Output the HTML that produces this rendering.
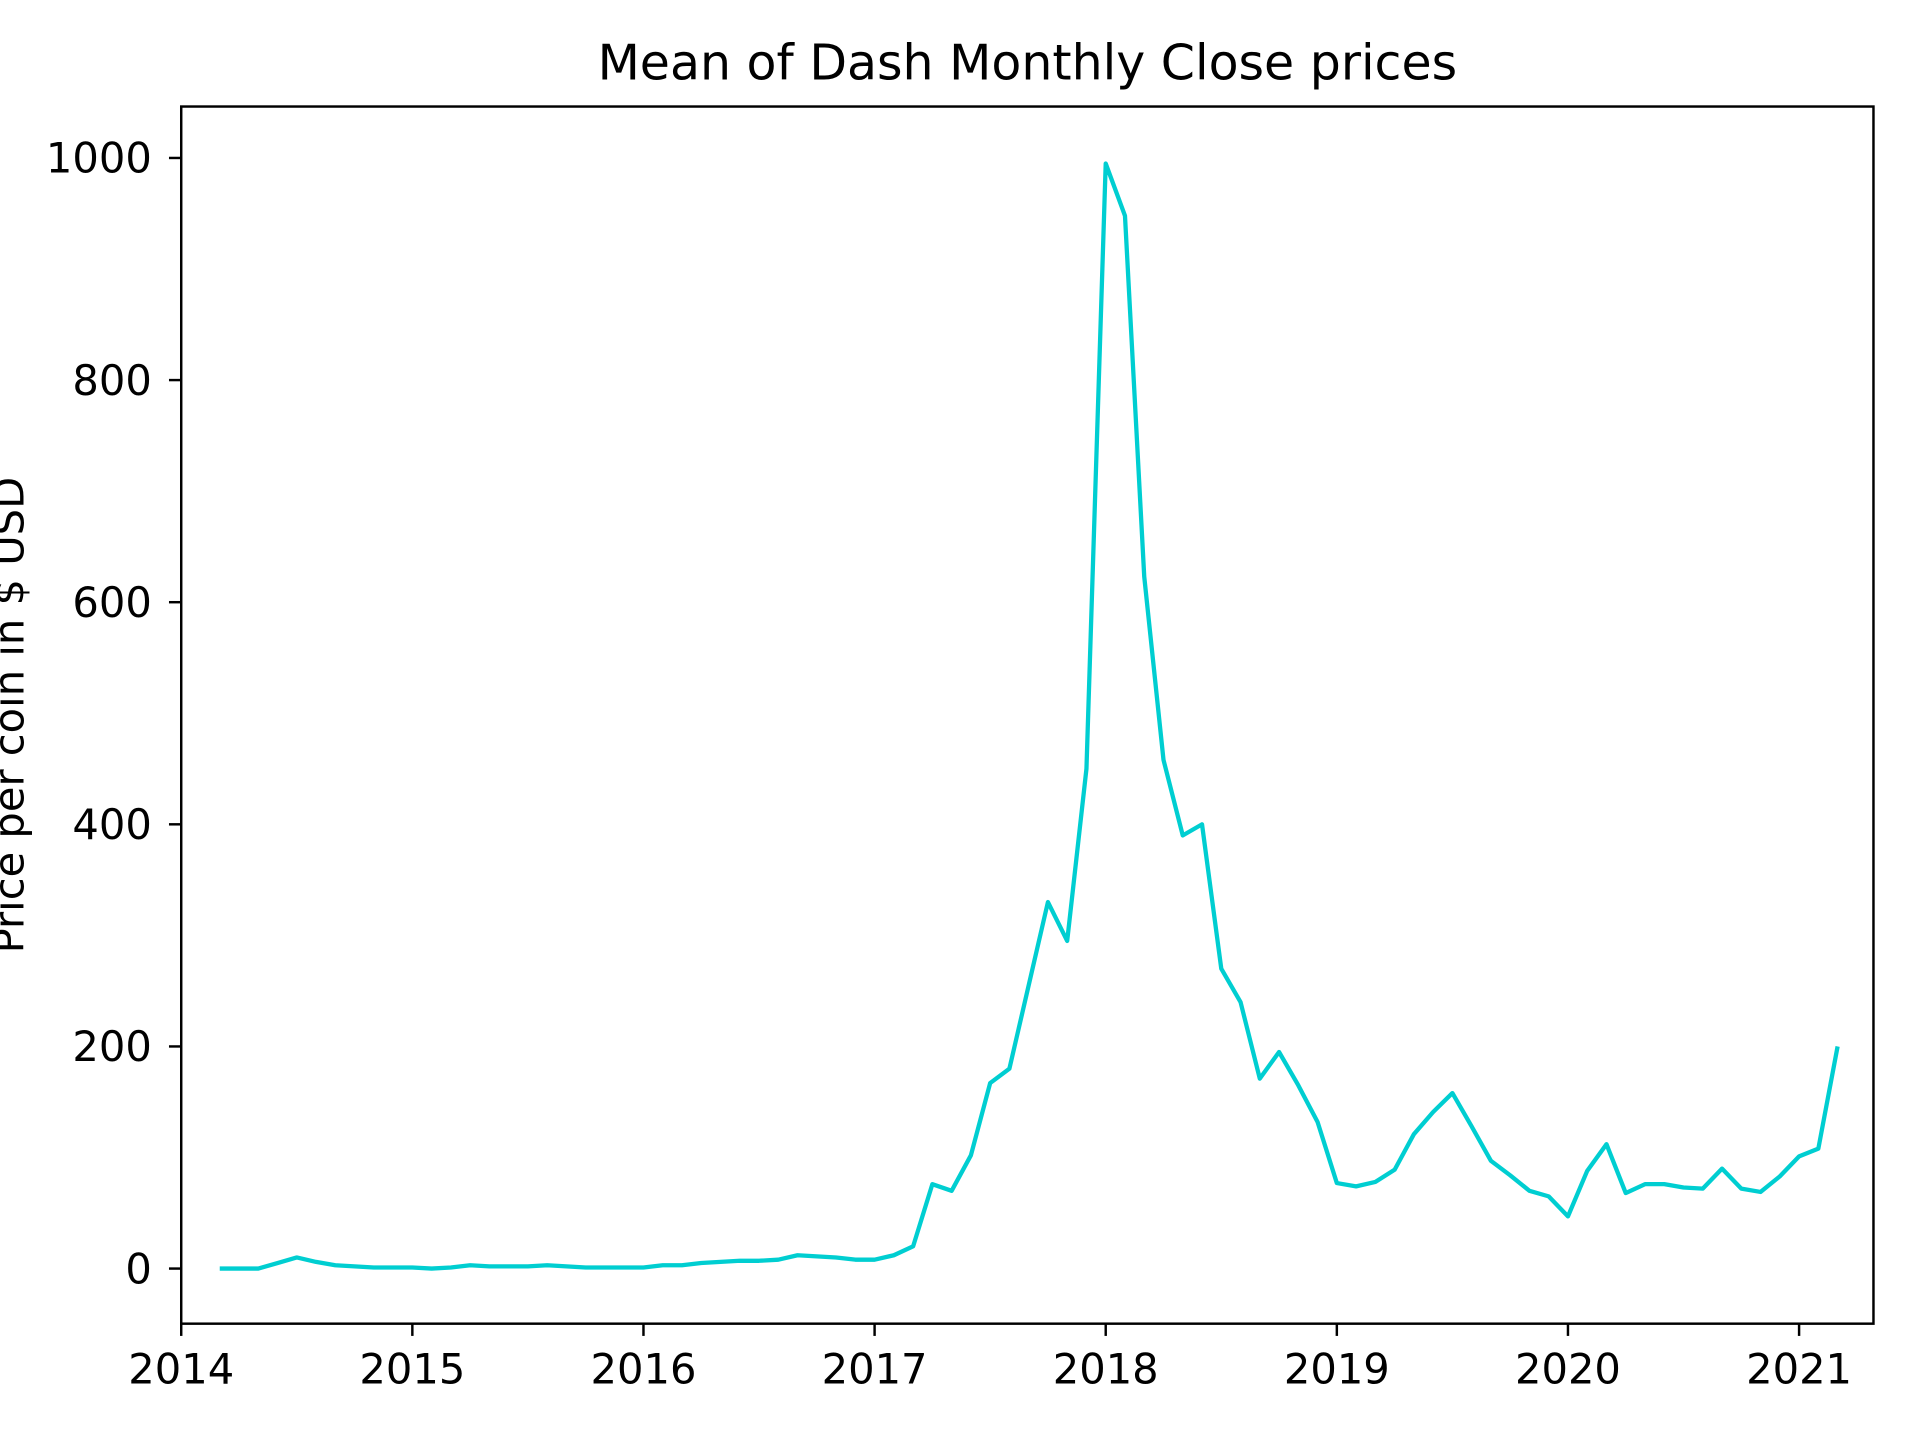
<!DOCTYPE html>
<html><head><meta charset="utf-8"><style>
html,body{margin:0;padding:0;background:#fff;}
svg{display:block;}
text{font-family:"DejaVu Sans","Liberation Sans",sans-serif;fill:#000;}
</style></head><body>
<svg id="chart" width="1920" height="1440" viewBox="0 0 1568 1176" xmlns="http://www.w3.org/2000/svg">
<rect width="1568" height="1176" fill="#fff"/>
<text x="839" y="65" font-size="40" text-anchor="middle">Mean of Dash Monthly Close prices</text>
<text transform="translate(19,584) rotate(-90)" font-size="34" text-anchor="middle">Price per coin in $ USD</text>
<g id="plot"></g>
</svg>
<script>
const startYear = 2014, startMonth = 3;
const prices = [
0,0,0,5,10,6,3,2,1,1,
1,0,1,3,2,2,2,3,2,1,1,1,
1,3,3,5,6,7,7,8,12,11,10,8,
8,12,20,76,70,102,167,180,255,330,295,450,
995,948,623,458,390,400,270,240,171,195,165,132,
77,74,78,89,121,141,158,128,97,84,70,65,
47,88,112,68,76,76,73,72,90,72,69,83,
101,108,200];
const yTicks = [0,200,400,600,800,1000];
const xTicks = [2014,2015,2016,2017,2018,2019,2020,2021];

const L=148,R=1530,T=87,B=1081;
function xs(yr){return 148+(yr-2014)*188.75;}
function ys(v){return 1036-(v)*0.907;}
const NS="http://www.w3.org/2000/svg";
const g=document.getElementById('plot');
function mk(tag,attrs){const e=document.createElementNS(NS,tag);for(const k in attrs)e.setAttribute(k,attrs[k]);g.appendChild(e);return e;}

let d="";
prices.forEach((v,i)=>{const yr=startYear+(startMonth-1+i)/12;d+=(i?"L":"M")+xs(yr).toFixed(2)+" "+ys(v).toFixed(2);});
const line=mk('path',{d:d,fill:'none',stroke:'#00ced1','stroke-width':3.5,'stroke-linejoin':'round'});



const frame=mk('rect',{x:L,y:T,width:R-L,height:B-T,fill:'none',stroke:'#000','stroke-width':2});



yTicks.forEach(v=>{
  const y=ys(v);
  const t=mk('line',{x1:L-10,x2:L,y1:y,y2:y,stroke:'#000','stroke-width':2});
  
  
  const lb=mk('text',{x:L-24,y:y+12,'font-size':34,'text-anchor':'end'});
  lb.textContent=v;
  
  
});
xTicks.forEach(v=>{
  const x=xs(v);
  const t=mk('line',{x1:x,x2:x,y1:B,y2:B+10,stroke:'#000','stroke-width':2});
  
  
  const lb=mk('text',{x:x,y:B+49,'font-size':34,'text-anchor':'middle'});
  lb.textContent=v;
  
  
});
</script>
</body></html>
